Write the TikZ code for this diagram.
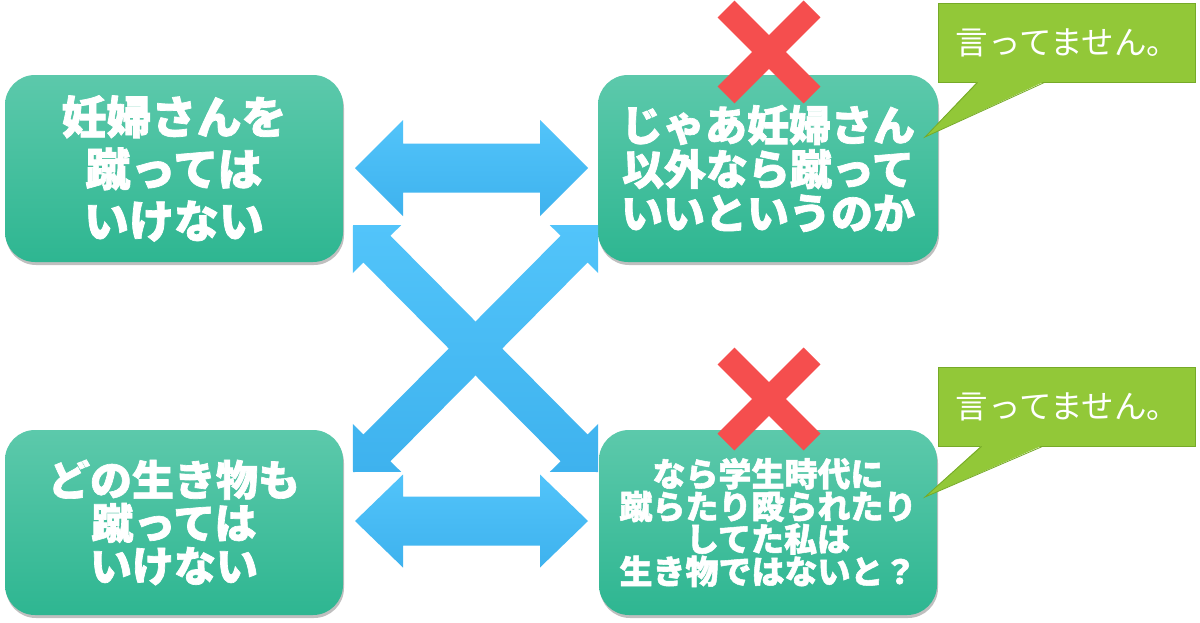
\documentclass[tikz,border=0pt]{standalone}
\usepackage{fontspec}
\newfontfamily\cjk{Noto Sans CJK JP}[BoldFeatures={FakeBold=1.6}]
\usetikzlibrary{calc,shadows}
\definecolor{boxtop}{RGB}{92,201,171}
\definecolor{boxbot}{RGB}{46,182,145}
\definecolor{arrowblue}{RGB}{82,196,250}
\definecolor{arrowdark}{RGB}{62,178,238}
\definecolor{crossred}{RGB}{245,78,78}
\definecolor{callgreen}{RGB}{146,200,56}
\definecolor{callline}{RGB}{118,170,40}
\tikzset{
  mainbox/.style={rounded corners=30pt, top color=boxtop, bottom color=boxbot,
    draw=none, text=white, align=center, inner sep=0pt,
    drop shadow={shadow xshift=1pt, shadow yshift=-3pt, opacity=0.25, fill=black}},
  arrowfill/.style={top color=arrowblue, bottom color=arrowdark, draw=none},
  crossline/.style={draw=crossred, line width=24pt, line cap=butt},
  callbox/.style={fill=callgreen, draw=callline, line width=0.8pt, text=white,
    minimum width=257pt, minimum height=79pt, inner sep=0pt,
    font=\cjk\fontsize{32.5}{34}\selectfont},
}
% #1 tip A, #2 tip B, #3 shaft half width, #4 head half width, #5 head length
\newcommand\blockarrow[5]{%
  \path ($(#1)!#5!(#2)$) coordinate (ba1) ($(#2)!#5!(#1)$) coordinate (bb1);
  \path[arrowfill] (#1) -- ($(ba1)!#4!90:(#1)$) -- ($(ba1)!#3!90:(#1)$)
    -- ($(bb1)!#3!-90:(#2)$) -- ($(bb1)!#4!-90:(#2)$) -- (#2)
    -- ($(bb1)!#4!90:(#2)$) -- ($(bb1)!#3!90:(#2)$)
    -- ($(ba1)!#3!-90:(#1)$) -- ($(ba1)!#4!-90:(#1)$) -- cycle;}
\begin{document}
\begin{tikzpicture}[x=1pt,y=-1pt]
\useasboundingbox[fill=white] (0,0) rectangle (1200,622);

% boxes
\node[mainbox, minimum width=338pt, minimum height=187pt,
  font=\cjk\bfseries\fontsize{45}{52}\selectfont] (tl) at (174,168.5)
  {妊婦さんを\\蹴っては\\いけない};
\node[mainbox, minimum width=340pt, minimum height=187pt,
  font=\cjk\bfseries\fontsize{42}{44}\selectfont] (tr) at (768,168.5)
  {じゃあ妊婦さん\\以外なら蹴って\\いいというのか};
\node[mainbox, minimum width=338pt, minimum height=185pt,
  font=\cjk\bfseries\fontsize{42}{43}\selectfont] (bl) at (174,522.5)
  {どの生き物も\\蹴っては\\いけない};
\node[mainbox, minimum width=338pt, minimum height=185pt,
  font=\cjk\bfseries\fontsize{33}{32.5}\selectfont] (br) at (768,522.5)
  {なら学生時代に\\蹴らたり殴られたり\\してた私は\\生き物ではないと？};

% arrow end points
\coordinate (h1a) at (355,168);
\coordinate (h1b) at (588,168);
\coordinate (h2a) at (355,521);
\coordinate (h2b) at (588,521);
\coordinate (d1a) at (353,225);
\coordinate (d1b) at (598,472);
\coordinate (d2a) at (353,472);
\coordinate (d2b) at (598,225);

\blockarrow{h1a}{h1b}{24.5pt}{48pt}{48pt}
\blockarrow{h2a}{h2b}{24.5pt}{46.5pt}{48pt}
\blockarrow{d2a}{d2b}{19pt}{34pt}{34pt}
\blockarrow{d1a}{d1b}{19pt}{34pt}{34pt}

% red crosses
\coordinate (x1) at (769,52);
\coordinate (x2) at (769,399);
\draw[crossline] ($(x1)+(-43,-43)$) -- ($(x1)+(43,43)$);
\draw[crossline] ($(x1)+(43,-43)$) -- ($(x1)+(-43,43)$);
\draw[crossline] ($(x2)+(-43,-43)$) -- ($(x2)+(43,43)$);
\draw[crossline] ($(x2)+(43,-43)$) -- ($(x2)+(-43,43)$);

% callouts
\node[callbox] (c1) at (1066.5,42.5) {\raisebox{-1.5pt}{\hspace*{2pt}言ってません。}};
\coordinate (t1) at (925,137);
\fill[callgreen] ($(c1.south west)+(40,-1)$) -- (t1) -- ($(c1.south west)+(107,-1)$) -- cycle;
\draw[callline, line width=0.8pt] ($(c1.south west)+(40,0)$) -- (t1) -- ($(c1.south west)+(107,0)$);

\node[callbox] (c2) at (1066.5,406.5) {\raisebox{-1.5pt}{\hspace*{2pt}言ってません。}};
\coordinate (t2) at (925,497);
\fill[callgreen] ($(c2.south west)+(44,-1)$) -- (t2) -- ($(c2.south west)+(105,-1)$) -- cycle;
\draw[callline, line width=0.8pt] ($(c2.south west)+(44,0)$) -- (t2) -- ($(c2.south west)+(105,0)$);
\end{tikzpicture}
\end{document}
